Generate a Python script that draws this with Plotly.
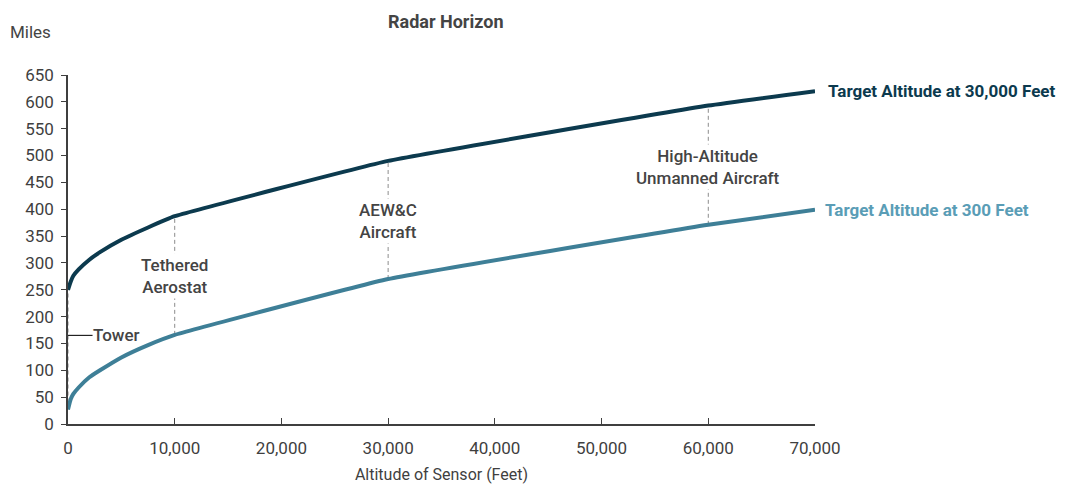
import plotly.graph_objects as go

# Data
sensor_alt = [0, 250, 500, 1000, 2000, 3000, 5000, 7500, 10000, 30000, 60000, 70000]
miles_30000 = [250, 265, 276, 288, 306, 320, 343, 366, 387, 490, 593, 620]
miles_300 = [27, 46, 56, 68, 87, 100, 124, 147, 166, 270, 371, 399]

x_ticks = [0, 10000, 20000, 30000, 40000, 50000, 60000, 70000]
y_ticks = list(range(0, 651, 50))

platforms = ["Tower", "Tethered<br>Aerostat", "AEW&C<br>Aircraft", "High-Altitude<br>Unmanned Aircraft"]
platform_alt = [0, 10000, 30000, 60000]
platform_label_y = [165, 275, 378, 478]

DARK = "#0c3a4e"
LIGHT = "#3e7f97"
LIGHT_TXT = "#5a9db6"
GREY = "#3f3f3f"
FONT = "Roboto"

fig = go.Figure()

# dashed connectors
for i, xa in enumerate(platform_alt):
    y_top = miles_30000[sensor_alt.index(xa)]
    y_bot = miles_300[sensor_alt.index(xa)]
    fig.add_shape(type="line", x0=xa, x1=xa, y0=y_bot, y1=y_top,
                  line=dict(color="#8c8c8c", width=1, dash="4px,3px"), layer="below")

fig.add_trace(go.Scatter(x=sensor_alt, y=miles_30000, mode="lines",
                         line=dict(color=DARK, width=4, shape="spline", smoothing=0.3),
                         hoverinfo="x+y", showlegend=False))
fig.add_trace(go.Scatter(x=sensor_alt, y=miles_300, mode="lines",
                         line=dict(color=LIGHT, width=4, shape="spline", smoothing=0.3),
                         hoverinfo="x+y", showlegend=False))

# platform labels
for i in range(1, 4):
    fig.add_annotation(x=platform_alt[i], y=platform_label_y[i], text=platforms[i],
                       showarrow=False, font=dict(family=FONT, size=17, color="#444444", weight=500),
                       bgcolor="white", align="center")

# Tower label with short leader line
fig.add_shape(type="line", x0=0, x1=2300, y0=165, y1=165, line=dict(color="#222222", width=1.2))
fig.add_annotation(x=2300, y=165, text="Tower", showarrow=False, xanchor="left", xshift=-2,
                   font=dict(family=FONT, size=17, color="#444444", weight=500))

# series end labels
fig.add_annotation(x=sensor_alt[-1], y=miles_30000[-1], text="<b>Target Altitude at 30,000 Feet</b>",
                   showarrow=False, xanchor="left", xshift=11,
                   font=dict(family=FONT, size=17, color=DARK))
fig.add_annotation(x=sensor_alt[-1], y=miles_300[-1], text="<b>Target Altitude at 300 Feet</b>",
                   showarrow=False, xanchor="left", xshift=8,
                   font=dict(family=FONT, size=17, color=LIGHT_TXT))

# title and axis unit
fig.add_annotation(xref="paper", yref="paper", x=(446 - 68) / 747, y=1 + (75 - 21) / 349,
                   yanchor="middle", text="<b>Radar Horizon</b>", showarrow=False,
                   font=dict(family=FONT, size=18, color="#444444"))
fig.add_annotation(xref="paper", yref="paper", x=-(68 - 8) / 747, y=1 + (75 - 32) / 349,
                   xanchor="left", yanchor="middle", text="Miles", showarrow=False,
                   font=dict(family=FONT, size=17, color="#444444"))

fig.update_layout(
    width=1072, height=496,
    margin=dict(l=60, r=265, t=67, b=80, autoexpand=False),
    plot_bgcolor="white", paper_bgcolor="white",
    font=dict(family=FONT, size=17, color=GREY),
    xaxis=dict(range=[0, 70000], tickvals=x_ticks,
               ticktext=[f"{v:,}" for v in x_ticks],
               showgrid=False, zeroline=False, showline=True, linecolor=GREY, linewidth=1.5,
               ticks="inside", ticklen=6, tickcolor=GREY, tickwidth=1.2, ticklabelstandoff=8,
               title=dict(text="Altitude of Sensor (Feet)", font=dict(size=16, color=GREY), standoff=12)),
    yaxis=dict(range=[0, 650], tickvals=y_ticks,
               showgrid=False, zeroline=False, showline=True, linecolor=GREY, linewidth=1.5,
               ticks="outside", ticklen=5, tickcolor=GREY, tickwidth=1.2, ticklabelstandoff=4),
)

fig.write_html("out.html")
